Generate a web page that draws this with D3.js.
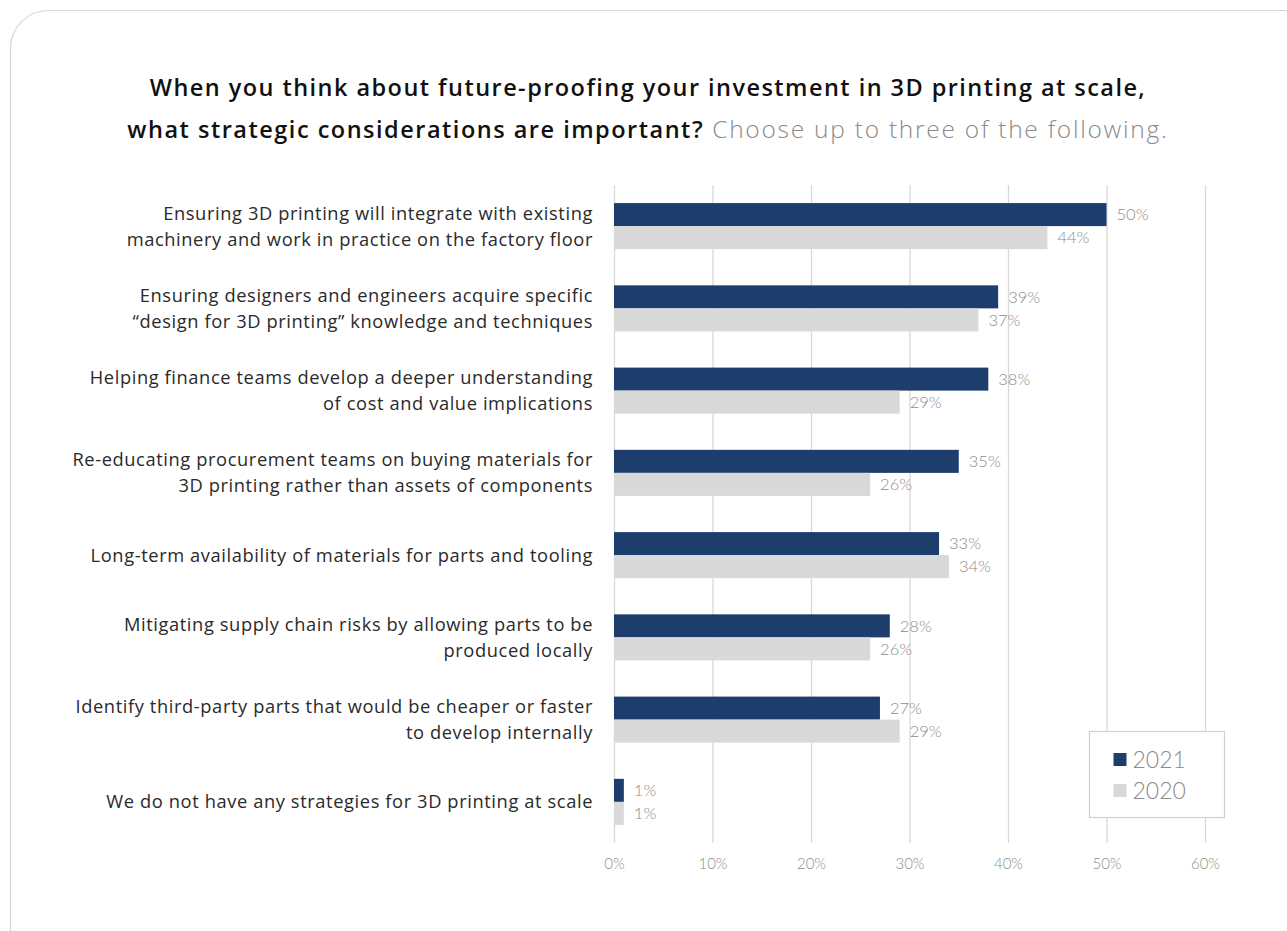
<!DOCTYPE html>
<html>
<head>
<meta charset="utf-8">
<script src="https://cdnjs.cloudflare.com/ajax/libs/d3/7.8.5/d3.min.js"></script>
<style>
  html, body { margin: 0; padding: 0; background: #fff; }
  svg { display: block; }
</style>
</head>
<body>
<svg id="chart" width="1287" height="931"></svg>
<script>
// Survey answers, in display order (top to bottom)
const categories = [
  ["Ensuring 3D printing will integrate with existing", "machinery and work in practice on the factory floor"],
  ["Ensuring designers and engineers acquire specific", "\u201cdesign for 3D printing\u201d knowledge and techniques"],
  ["Helping finance teams develop a deeper understanding", "of cost and value implications"],
  ["Re-educating procurement teams on buying materials for", "3D printing rather than assets of components"],
  ["Long-term availability of materials for parts and tooling"],
  ["Mitigating supply chain risks by allowing parts to be", "produced locally"],
  ["Identify third-party parts that would be cheaper or faster", "to develop internally"],
  ["We do not have any strategies for 3D printing at scale"]
];
const values2021 = [50, 39, 38, 35, 33, 28, 27, 1];
const values2020 = [44, 37, 29, 26, 34, 26, 29, 1];
const seriesNames = ["2021", "2020"];
const tickValues = [0, 10, 20, 30, 40, 50, 60];

const colors = { "2021": "#1d3d6d", "2020": "#d9d9d9" };

const svg = d3.select("#chart");
const font = "'Open Sans', sans-serif";
const lightFont = "Lato, 'Open Sans', sans-serif";

// Card outline
svg.append("rect")
  .attr("x", 10.5).attr("y", 10.5)
  .attr("width", 1310).attr("height", 960)
  .attr("rx", 38).attr("ry", 38)
  .attr("fill", "#fff")
  .attr("stroke", "#d6d6d6").attr("stroke-width", 1.2);

// Title
const title = svg.append("text")
  .attr("x", 648).attr("y", 96)
  .attr("text-anchor", "middle")
  .attr("font-family", font)
  .attr("font-size", 23.5)
  .attr("letter-spacing", 1.45)
  .attr("fill", "#111");
title.append("tspan").attr("font-weight", 600)
  .text("When you think about future-proofing your investment in 3D printing at scale,");
const t2 = svg.append("text")
  .attr("x", 648).attr("y", 138)
  .attr("text-anchor", "middle")
  .attr("font-family", font)
  .attr("font-size", 23.5);
t2.append("tspan").attr("font-weight", 600).attr("fill", "#111")
  .attr("letter-spacing", 1.5)
  .text("what strategic considerations are important?");
t2.append("tspan").attr("font-weight", 300).attr("fill", "#8a8a8a")
  .attr("font-size", 24.5)
  .attr("letter-spacing", 1.75)
  .text(" Choose up to three of the following.");

// Scales
const x = d3.scaleLinear().domain([0, 60]).range([614, 1205]);
const y = d3.scaleBand()
  .domain(d3.range(categories.length))
  .range([185, 843])
  .paddingInner(0.44)
  .paddingOuter(0.22);
const ySub = d3.scaleBand().domain(seriesNames).range([0, y.bandwidth()]);

// Gridlines
svg.append("g")
  .selectAll("line")
  .data(tickValues)
  .join("line")
  .attr("x1", d => x(d) + 0.5).attr("x2", d => x(d) + 0.5)
  .attr("y1", 185).attr("y2", 843)
  .attr("stroke", "#d9d9d9").attr("stroke-width", 1.3);

// X axis labels
const xAxis = d3.axisBottom(x)
  .tickValues(tickValues)
  .tickSize(0)
  .tickPadding(0)
  .tickFormat(d => d + "%");
const gx = svg.append("g").attr("transform", "translate(0,858)").call(xAxis);
gx.select(".domain").remove();
gx.selectAll("text")
  .attr("font-family", lightFont)
  .attr("font-size", 15)
  .attr("font-weight", 300)
  .attr("fill", "#8c8c8c")
  .attr("dy", "0.71em");

// Bars
const rows = categories.map((c, i) => ({
  i,
  vals: [
    { s: "2021", v: values2021[i] },
    { s: "2020", v: values2020[i] }
  ]
}));

const groups = svg.append("g").selectAll("g")
  .data(rows)
  .join("g")
  .attr("transform", d => `translate(0,${y(d.i)})`);

groups.selectAll("rect")
  .data(d => d.vals)
  .join("rect")
  .attr("x", x(0))
  .attr("y", d => ySub(d.s))
  .attr("width", d => x(d.v) - x(0))
  .attr("height", ySub.bandwidth())
  .attr("fill", d => colors[d.s]);

groups.selectAll("text.val")
  .data(d => d.vals)
  .join("text")
  .attr("class", "val")
  .attr("x", d => x(d.v) + 10)
  .attr("y", d => ySub(d.s) + ySub.bandwidth() / 2)
  .attr("dy", "0.35em")
  .attr("font-family", lightFont)
  .attr("font-size", 16.5)
  .attr("font-weight", 300)
  .attr("fill", "#8c8c8c")
  .text(d => d.v + "%");

// Category labels
const lineH = 26;
groups.append("text")
  .attr("text-anchor", "end")
  .attr("font-family", font)
  .attr("font-size", 18.3)
  .attr("letter-spacing", 0.6)
  .attr("fill", "#2a2a2a")
  .each(function(d) {
    const lines = categories[d.i];
    const mid = y.bandwidth() / 2;
    const t = d3.select(this);
    lines.forEach((ln, k) => {
      t.append("tspan")
        .attr("x", 593)
        .attr("y", mid + (k - (lines.length - 1) / 2) * lineH)
        .attr("dy", "0.35em")
        .text(ln);
    });
  });

// Legend
const lg = svg.append("g").attr("transform", "translate(1089.5,731.5)");
lg.append("rect")
  .attr("width", 135).attr("height", 86)
  .attr("fill", "#fff")
  .attr("stroke", "#cfcfcf").attr("stroke-width", 1.2);
seriesNames.forEach((s, k) => {
  const yy = 28 + k * 31;
  lg.append("rect")
    .attr("x", 24).attr("y", yy - 6.5)
    .attr("width", 13).attr("height", 13)
    .attr("fill", colors[s]);
  lg.append("text")
    .attr("x", 43).attr("y", yy)
    .attr("dy", "0.36em")
    .attr("font-family", lightFont)
    .attr("font-size", 23)
    .attr("font-weight", 300)
    .attr("fill", "#8a8a8a")
    .text(s);
});
</script>
</body>
</html>
